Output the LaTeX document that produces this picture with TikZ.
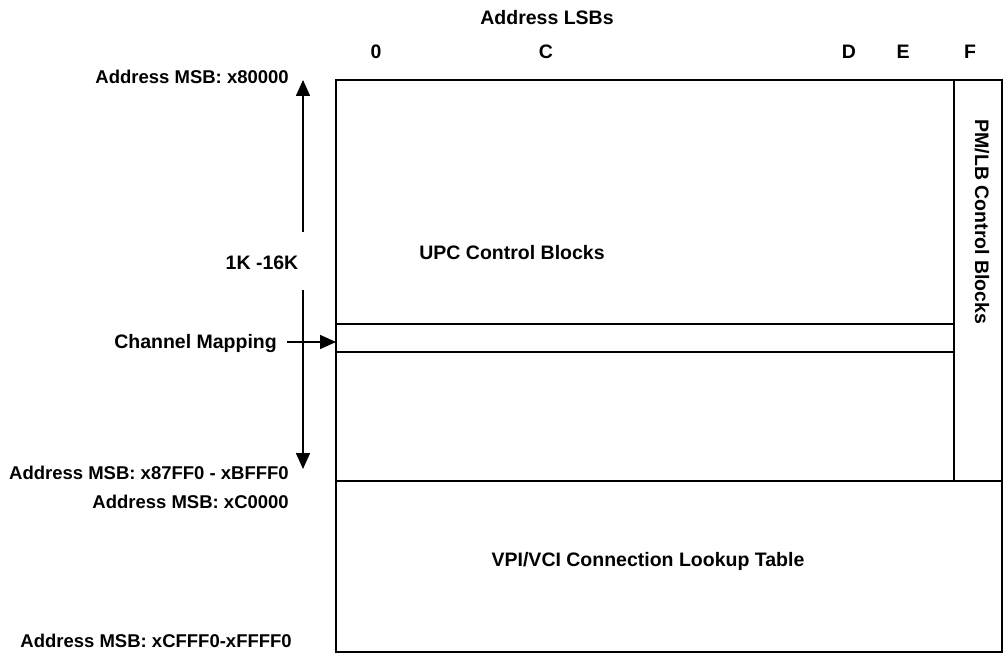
\documentclass[tikz,border=0pt]{standalone}
\usepackage{fontspec}
\setmainfont{Liberation Sans}
\usetikzlibrary{arrows.meta}
\begin{document}
\begin{tikzpicture}[x=1pt,y=-1pt,
  lbl/.style={font=\fontsize{18.5}{20}\selectfont\bfseries, inner sep=0pt},
  big/.style={font=\fontsize{19.5}{22}\selectfont\bfseries, inner sep=0pt},
  frame/.style={line width=1.8pt},
  band/.style={line width=1.2pt},
  arr/.style={line width=1.6pt, -{Triangle[length=16pt,width=14pt]}}]
\useasboundingbox (0,0) rectangle (1004,658);
% frame
\draw[frame] (336,80) rectangle (1002,652);
\draw[frame] (336,481) -- (1002,481);
\draw[frame] (954,80) -- (954,481);
\draw[band] (336,324) -- (954,324);
\draw[band] (336,352) -- (954,352);
% column labels
\node[big] (lsb) at (547,18) {Address LSBs};
\node[big] (c0) at (376,52) {0};
\node[big] (cC) at (546,52) {C};
\node[big] (cD) at (849,52) {D};
\node[big] (cE) at (903,52) {E};
\node[big] (cF) at (970,52) {F};
% region labels
\node[big] (upc) at (512,253) {UPC Control Blocks};
\node[big] (vpi) at (648,561) {VPI/VCI Connection Lookup Table};
\node[big, rotate=-90] (pmlb) at (982,222) {PM/LB Control Blocks};
% left labels
\node[lbl, anchor=east] (a1) at (289,77) {Address MSB: x80000};
\node[lbl, anchor=east] (a2) at (289,473) {Address MSB: x87FF0 - xBFFF0};
\node[lbl, anchor=east] (a3) at (289,502) {Address MSB: xC0000};
\node[lbl, anchor=east] (a4) at (292,641) {Address MSB: xCFFF0-xFFFF0};
\node[big, anchor=east] (cm) at (277,343) {Channel Mapping};
\node[big] (k) at (262,263) {1K -16K};
% vertical arrow
\coordinate (vt) at (303,80);
\coordinate (vb) at (303,469);
\coordinate (g1) at (303,232);
\coordinate (g2) at (303,290);
\draw[arr] (g1) -- (vt);
\draw[arr] (g2) -- (vb);
% channel mapping arrow
\coordinate (cmt) at (336,342);
\draw[arr] (cm.east) ++(10,-1) coordinate (cms) -- (cmt);
\end{tikzpicture}
\end{document}
